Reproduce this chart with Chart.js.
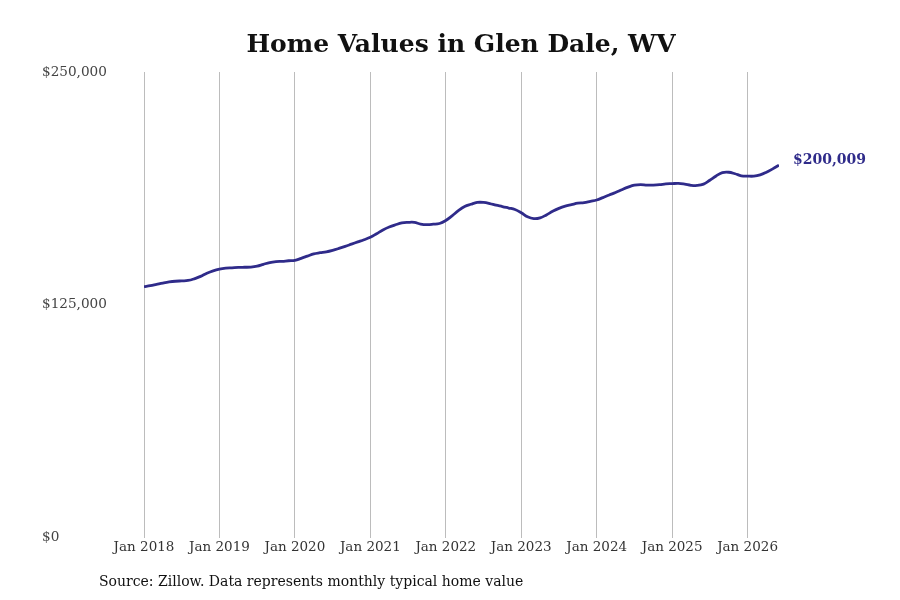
<!DOCTYPE html>
<html>
<head>
<meta charset="utf-8">
<title>Home Values in Glen Dale, WV</title>
<script src="https://cdn.jsdelivr.net/npm/chart.js@4/dist/chart.umd.min.js"></script>
<style>
  html, body { margin: 0; padding: 0; background: #fff; }
  #wrap { width: 900px; height: 600px; }
</style>
</head>
<body>
<div id="wrap"><canvas id="homeChart" width="900" height="600"></canvas></div>
<script>
// Typical home value, monthly (USD)
const values2018 = [134800, 135300, 136000, 136700, 137300, 137700, 137900, 138100, 139000, 140300, 142000, 143300];
const values2019 = [144200, 144700, 144900, 145100, 145200, 145300, 145800, 146800, 147700, 148200, 148400, 148700];
const values2020 = [148900, 150000, 151200, 152400, 153000, 153500, 154300, 155300, 156400, 157600, 158800, 160000];
const values2021 = [161300, 163200, 165200, 166800, 168000, 169000, 169300, 169300, 168400, 168100, 168300, 168700];
const values2022 = [170300, 172800, 175600, 177800, 179000, 180000, 180000, 179400, 178500, 177800, 177000, 176200];
const values2023 = [174500, 172300, 171300, 171700, 173300, 175200, 176800, 178000, 178800, 179600, 179900, 180600];
const values2024 = [181300, 182600, 184000, 185300, 186800, 188200, 189300, 189600, 189300, 189300, 189500, 190000];
const values2025 = [190100, 190200, 189800, 189200, 189100, 189800, 191900, 194200, 196000, 196200, 195400, 194300];
const values2026 = [194100, 194100, 194800, 196200, 198000, 200009];

const xTickLabels = ["Jan 2018", "Jan 2019", "Jan 2020", "Jan 2021", "Jan 2022", "Jan 2023", "Jan 2024", "Jan 2025", "Jan 2026"];
const yTickValues = [0, 125000, 250000];

const homeValues = [].concat(values2018, values2019, values2020, values2021, values2022,
  values2023, values2024, values2025, values2026);
const points = homeValues.map((v, i) => ({ x: i, y: v }));

const LINE = "#2f2b8a";
const FONT = "'DejaVu Serif', serif";
const money = (v) => "$" + v.toLocaleString("en-US");

// title, last value label and source note
const annotations = {
  id: "annotations",
  afterDatasetsDraw(chart) {
    const { ctx } = chart;
    const meta = chart.getDatasetMeta(0);
    const last = meta.data[meta.data.length - 1];
    ctx.save();
    ctx.textBaseline = "middle";

    ctx.fillStyle = "#111";
    ctx.font = "bold 25px " + FONT;
    ctx.textAlign = "center";
    ctx.fillText("Home Values in Glen Dale, WV", 461, 45);

    ctx.textAlign = "left";
    ctx.fillStyle = LINE;
    ctx.font = "bold 14px " + FONT;
    ctx.fillText(money(homeValues[homeValues.length - 1]), last.x + 14, last.y - 5);

    ctx.fillStyle = "#111";
    ctx.font = "14px " + FONT;
    ctx.fillText("Source: Zillow. Data represents monthly typical home value", 99, 582);
    ctx.restore();
  },
};

new Chart(document.getElementById("homeChart"), {
  type: "line",
  data: {
    datasets: [
      {
        data: points,
        borderColor: LINE,
        borderWidth: 2.8,
        pointRadius: 0,
        tension: 0.4,
        fill: false,
      },
    ],
  },
  options: {
    responsive: false,
    animation: false,
    layout: { padding: { left: 42, right: 121, top: 72, bottom: 42 } },
    plugins: {
      legend: { display: false },
      tooltip: { enabled: false },
      title: { display: false },
    },
    scales: {
      x: {
        type: "linear",
        min: 0,
        max: homeValues.length - 1,
        afterBuildTicks: (scale) => {
          scale.ticks = xTickLabels.map((_, i) => ({ value: i * 12 }));
        },
        ticks: {
          color: "#333",
          padding: 2,
          maxRotation: 0,
          font: { family: FONT, size: 13.5 },
          callback: (v) => xTickLabels[v / 12],
        },
        grid: { color: "#bcbcbc", lineWidth: 1, drawTicks: false },
        border: { display: false },
      },
      y: {
        min: 0,
        max: 250000,
        afterBuildTicks: (scale) => {
          scale.ticks = yTickValues.map((v) => ({ value: v }));
        },
        afterFit: (scale) => {
          scale.width = 102;
        },
        ticks: {
          color: "#444",
          crossAlign: "far",
          font: { family: FONT, size: 13.6 },
          callback: (v) => money(v),
        },
        grid: { display: false, drawTicks: false },
        border: { display: false },
      },
    },
  },
  plugins: [annotations],
});
</script>
</body>
</html>
